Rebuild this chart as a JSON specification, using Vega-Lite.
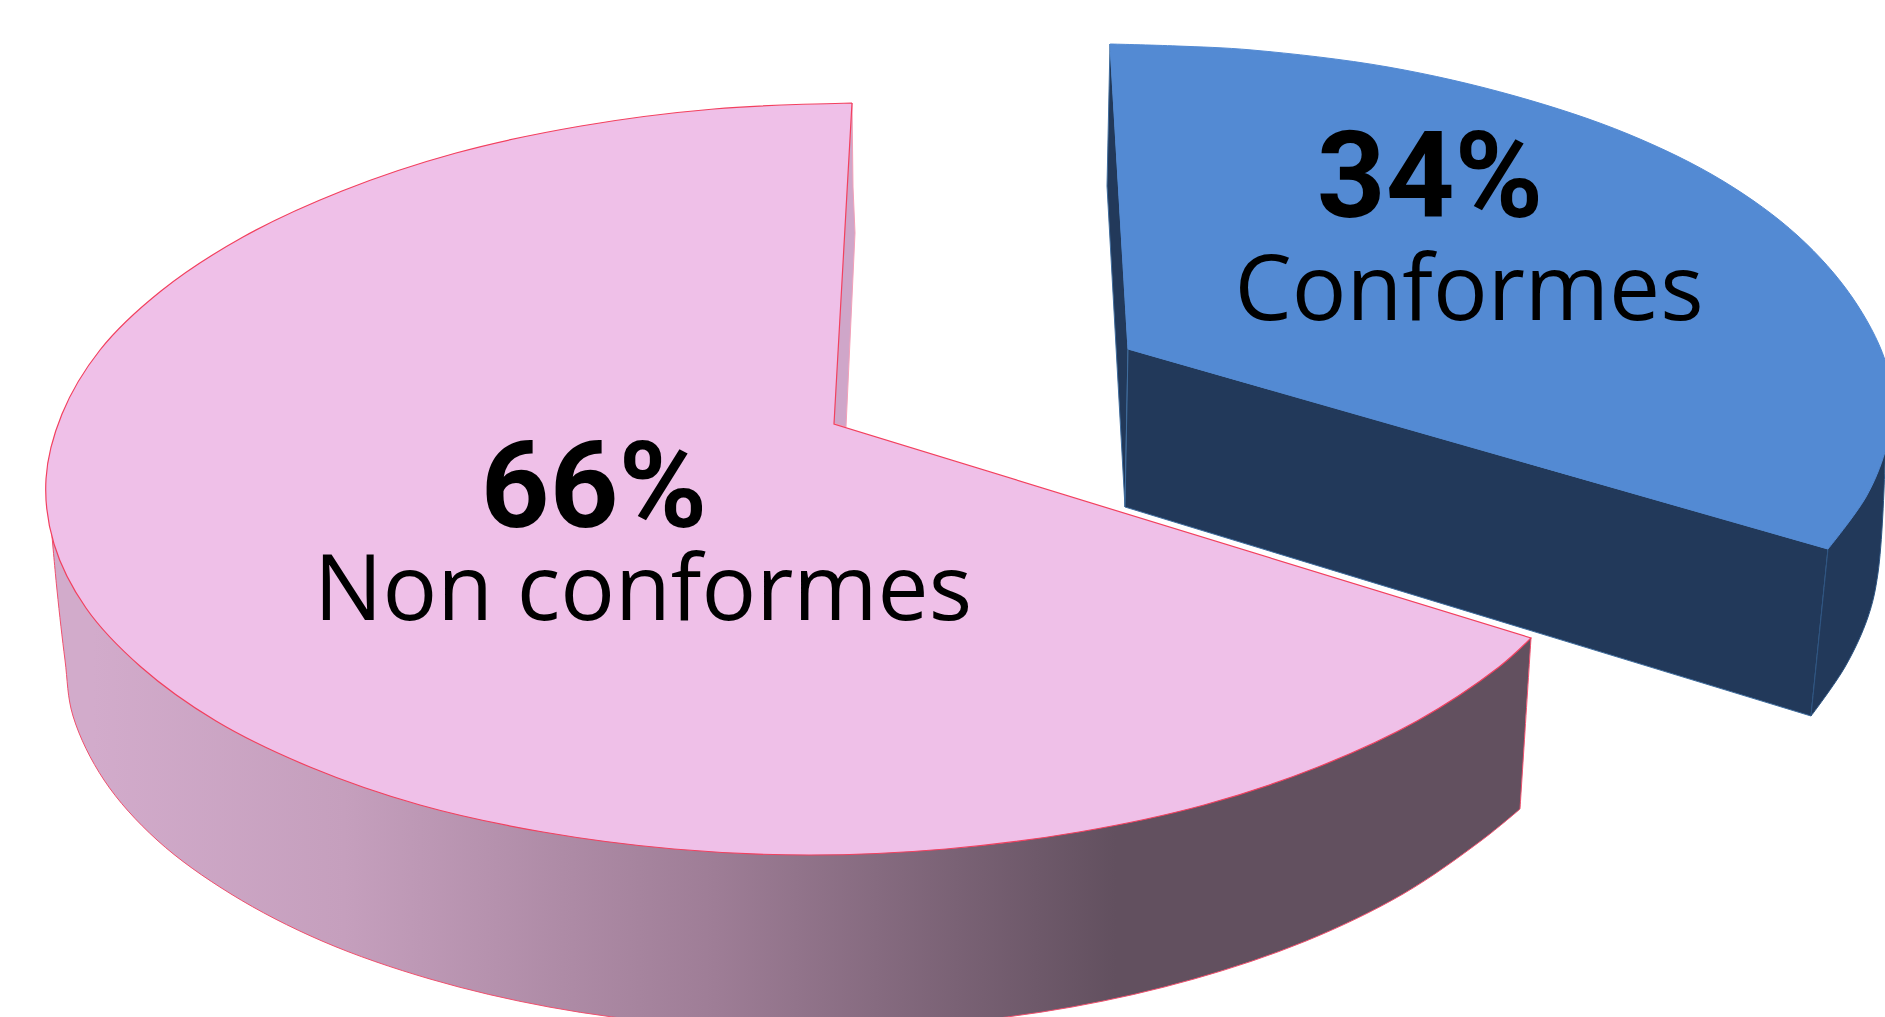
{
  "$schema": "https://vega.github.io/schema/vega-lite/v6.json",
  "width": 1885,
  "height": 1017,
  "padding": 0,
  "autosize": "none",
  "background": "#ffffff",
  "config": {"view": {"stroke": null}},
  "datasets": {
    "outline": [
      {"face":"pinkNotch","seq":1,"x":852,"y":103},
      {"face":"pinkNotch","seq":2,"x":833,"y":423},
      {"face":"pinkNotch","seq":3,"x":846,"y":427},
      {"face":"pinkNotch","seq":4,"x":855,"y":233},
      {"face":"pinkNotch","seq":5,"x":853,"y":187},
      {"face":"pinkNotch","seq":6,"x":852,"y":103},

      {"face":"pinkWall","seq":1,"x":48,"y":490},
      {"face":"pinkWall","seq":2,"x":48,"y":490},
      {"face":"pinkWall","seq":3,"x":60,"y":540},
      {"face":"pinkWall","seq":4,"x":90,"y":604},
      {"face":"pinkWall","seq":5,"x":145,"y":663},
      {"face":"pinkWall","seq":6,"x":220,"y":716},
      {"face":"pinkWall","seq":7,"x":314,"y":762},
      {"face":"pinkWall","seq":8,"x":424,"y":800},
      {"face":"pinkWall","seq":9,"x":547,"y":827},
      {"face":"pinkWall","seq":10,"x":678,"y":844},
      {"face":"pinkWall","seq":11,"x":809,"y":850},
      {"face":"pinkWall","seq":12,"x":946,"y":844},
      {"face":"pinkWall","seq":13,"x":1079,"y":827},
      {"face":"pinkWall","seq":14,"x":1204,"y":800},
      {"face":"pinkWall","seq":15,"x":1318,"y":762},
      {"face":"pinkWall","seq":16,"x":1417,"y":716},
      {"face":"pinkWall","seq":17,"x":1495,"y":664},
      {"face":"pinkWall","seq":18,"x":1531,"y":638},
      {"face":"pinkWall","seq":19,"x":1531,"y":638},
      {"face":"pinkWall","seq":20,"x":1520,"y":809},
      {"face":"pinkWall","seq":21,"x":1520,"y":809},
      {"face":"pinkWall","seq":22,"x":1482,"y":840},
      {"face":"pinkWall","seq":23,"x":1403,"y":894},
      {"face":"pinkWall","seq":24,"x":1306,"y":941},
      {"face":"pinkWall","seq":25,"x":1194,"y":979},
      {"face":"pinkWall","seq":26,"x":1072,"y":1007},
      {"face":"pinkWall","seq":27,"x":942,"y":1024},
      {"face":"pinkWall","seq":28,"x":809,"y":1030},
      {"face":"pinkWall","seq":29,"x":676,"y":1024},
      {"face":"pinkWall","seq":30,"x":549,"y":1007},
      {"face":"pinkWall","seq":31,"x":430,"y":979},
      {"face":"pinkWall","seq":32,"x":322,"y":941},
      {"face":"pinkWall","seq":33,"x":231,"y":894},
      {"face":"pinkWall","seq":34,"x":157,"y":840},
      {"face":"pinkWall","seq":35,"x":104,"y":780},
      {"face":"pinkWall","seq":36,"x":73,"y":716},
      {"face":"pinkWall","seq":37,"x":65,"y":660},
      {"face":"pinkWall","seq":38,"x":57,"y":590},
      {"face":"pinkWall","seq":39,"x":48,"y":490},
      {"face":"pinkWall","seq":40,"x":48,"y":490},

      {"face":"pinkTop","seq":1,"x":852,"y":103},
      {"face":"pinkTop","seq":2,"x":852,"y":103},
      {"face":"pinkTop","seq":3,"x":714,"y":109},
      {"face":"pinkTop","seq":4,"x":581,"y":126},
      {"face":"pinkTop","seq":5,"x":456,"y":153},
      {"face":"pinkTop","seq":6,"x":342,"y":191},
      {"face":"pinkTop","seq":7,"x":243,"y":237},
      {"face":"pinkTop","seq":8,"x":161,"y":291},
      {"face":"pinkTop","seq":9,"x":100,"y":350},
      {"face":"pinkTop","seq":10,"x":62,"y":414},
      {"face":"pinkTop","seq":11,"x":46,"y":479},
      {"face":"pinkTop","seq":12,"x":54,"y":544},
      {"face":"pinkTop","seq":13,"x":86,"y":608},
      {"face":"pinkTop","seq":14,"x":141,"y":667},
      {"face":"pinkTop","seq":15,"x":216,"y":721},
      {"face":"pinkTop","seq":16,"x":310,"y":767},
      {"face":"pinkTop","seq":17,"x":420,"y":805},
      {"face":"pinkTop","seq":18,"x":543,"y":832},
      {"face":"pinkTop","seq":19,"x":674,"y":849},
      {"face":"pinkTop","seq":20,"x":809,"y":855},
      {"face":"pinkTop","seq":21,"x":946,"y":849},
      {"face":"pinkTop","seq":22,"x":1079,"y":832},
      {"face":"pinkTop","seq":23,"x":1204,"y":805},
      {"face":"pinkTop","seq":24,"x":1318,"y":767},
      {"face":"pinkTop","seq":25,"x":1417,"y":721},
      {"face":"pinkTop","seq":26,"x":1499,"y":667},
      {"face":"pinkTop","seq":27,"x":1531,"y":638},
      {"face":"pinkTop","seq":28,"x":1531,"y":638},
      {"face":"pinkTop","seq":29,"x":834,"y":424},
      {"face":"pinkTop","seq":30,"x":834,"y":424},
      {"face":"pinkTop","seq":31,"x":852,"y":103},
      {"face":"pinkTop","seq":32,"x":852,"y":103},

      {"face":"blueNotch","seq":1,"x":1110,"y":44},
      {"face":"blueNotch","seq":2,"x":1107,"y":186},
      {"face":"blueNotch","seq":3,"x":1125,"y":507},
      {"face":"blueNotch","seq":4,"x":1128,"y":349},
      {"face":"blueNotch","seq":5,"x":1110,"y":44},

      {"face":"blueFront","seq":1,"x":1128,"y":349},
      {"face":"blueFront","seq":2,"x":1828,"y":549},
      {"face":"blueFront","seq":3,"x":1811,"y":716},
      {"face":"blueFront","seq":4,"x":1125,"y":507},
      {"face":"blueFront","seq":5,"x":1128,"y":349},

      {"face":"blueOuter","seq":1,"x":1828,"y":549},
      {"face":"blueOuter","seq":2,"x":1828,"y":549},
      {"face":"blueOuter","seq":3,"x":1885,"y":440},
      {"face":"blueOuter","seq":4,"x":1885,"y":440},
      {"face":"blueOuter","seq":5,"x":1885,"y":463},
      {"face":"blueOuter","seq":6,"x":1878,"y":573},
      {"face":"blueOuter","seq":7,"x":1868,"y":617},
      {"face":"blueOuter","seq":8,"x":1845,"y":667},
      {"face":"blueOuter","seq":9,"x":1811,"y":716},
      {"face":"blueOuter","seq":10,"x":1811,"y":716},
      {"face":"blueOuter","seq":11,"x":1828,"y":549},
      {"face":"blueOuter","seq":12,"x":1828,"y":549},

      {"face":"blueTop","seq":1,"x":1110,"y":44},
      {"face":"blueTop","seq":2,"x":1110,"y":44},
      {"face":"blueTop","seq":3,"x":1177,"y":46},
      {"face":"blueTop","seq":4,"x":1252,"y":50},
      {"face":"blueTop","seq":5,"x":1388,"y":67},
      {"face":"blueTop","seq":6,"x":1515,"y":96},
      {"face":"blueTop","seq":7,"x":1628,"y":134},
      {"face":"blueTop","seq":8,"x":1723,"y":181},
      {"face":"blueTop","seq":9,"x":1798,"y":236},
      {"face":"blueTop","seq":10,"x":1852,"y":297},
      {"face":"blueTop","seq":11,"x":1885,"y":360},
      {"face":"blueTop","seq":12,"x":1893,"y":410},
      {"face":"blueTop","seq":13,"x":1885,"y":452},
      {"face":"blueTop","seq":14,"x":1866,"y":497},
      {"face":"blueTop","seq":15,"x":1828,"y":549},
      {"face":"blueTop","seq":16,"x":1828,"y":549},
      {"face":"blueTop","seq":17,"x":1128,"y":349},
      {"face":"blueTop","seq":18,"x":1128,"y":349},
      {"face":"blueTop","seq":19,"x":1110,"y":44},
      {"face":"blueTop","seq":20,"x":1110,"y":44}
    ],
    "shares": [
      {"segment":"Non conformes","share":0.66,"valueX":594,"valueY":527,"nameX":643,"nameY":620},
      {"segment":"Conformes","share":0.34,"valueX":1430,"valueY":217,"nameX":1469,"nameY":320}
    ]
  },
  "encoding": {
    "x": {"field":"x","type":"quantitative","axis":null,"scale":{"domain":[0,1885],"nice":false,"zero":false}},
    "y": {"field":"y","type":"quantitative","axis":null,"scale":{"domain":[1017,0],"nice":false,"zero":false}},
    "order": {"field":"seq","type":"quantitative"}
  },
  "layer": [
    {
      "data": {"name":"outline"},
      "transform": [{"filter":"datum.face === 'pinkNotch'"}],
      "mark": {"type":"line","filled":true,"clip":true,"fill":"#cfa6c9","stroke":"#f3a0b8","strokeWidth":1,"interpolate":"linear"}
    },
    {
      "data": {"name":"outline"},
      "transform": [{"filter":"datum.face === 'pinkWall'"}],
      "mark": {
        "type":"line","filled":true,"clip":true,"stroke":"#f0506e","strokeWidth":1,"interpolate":"catmull-rom",
        "fill": {"gradient":"linear","x1":0,"y1":0,"x2":1,"y2":0,"stops":[
          {"offset":0.03,"color":"#d2abcb"},
          {"offset":0.2,"color":"#c59fbd"},
          {"offset":0.45,"color":"#9e7d96"},
          {"offset":0.72,"color":"#62505f"},
          {"offset":1,"color":"#62505f"}
        ]}
      }
    },
    {
      "data": {"name":"outline"},
      "transform": [{"filter":"datum.face === 'pinkTop'"}],
      "mark": {"type":"line","filled":true,"clip":true,"fill":"#efc0e8","stroke":"#f2405f","strokeWidth":1.2,"interpolate":"catmull-rom"}
    },
    {
      "data": {"name":"outline"},
      "transform": [{"filter":"datum.face === 'blueNotch'"}],
      "mark": {"type":"line","filled":true,"clip":true,"fill":"#22395a","stroke":"#3f6d9e","strokeWidth":1,"interpolate":"linear"}
    },
    {
      "data": {"name":"outline"},
      "transform": [{"filter":"datum.face === 'blueFront'"}],
      "mark": {"type":"line","filled":true,"clip":true,"fill":"#22395a","stroke":"#3f6d9e","strokeWidth":1,"interpolate":"linear"}
    },
    {
      "data": {"name":"outline"},
      "transform": [{"filter":"datum.face === 'blueOuter'"}],
      "mark": {"type":"line","filled":true,"clip":true,"fill":"#22395a","stroke":"#2f5582","strokeWidth":1,"interpolate":"catmull-rom"}
    },
    {
      "data": {"name":"outline"},
      "transform": [{"filter":"datum.face === 'blueTop'"}],
      "mark": {"type":"line","filled":true,"clip":true,"fill":"#538ad3","stroke":"#538ad3","strokeWidth":1,"interpolate":"catmull-rom"}
    },
    {
      "data": {"name":"shares"},
      "mark": {"type":"text","font":"Roboto","fontWeight":"bold","fontSize":120,"align":"center","baseline":"alphabetic","color":"#000000"},
      "encoding": {
        "x": {"field":"valueX","type":"quantitative"},
        "y": {"field":"valueY","type":"quantitative"},
        "order": {"value":null},
        "text": {"field":"share","type":"quantitative","format":".0%"}
      }
    },
    {
      "data": {"name":"shares"},
      "mark": {"type":"text","font":"Open Sans","fontSize":91,"align":"center","baseline":"alphabetic","color":"#000000"},
      "encoding": {
        "x": {"field":"nameX","type":"quantitative"},
        "y": {"field":"nameY","type":"quantitative"},
        "order": {"value":null},
        "text": {"field":"segment","type":"nominal"}
      }
    }
  ]
}
